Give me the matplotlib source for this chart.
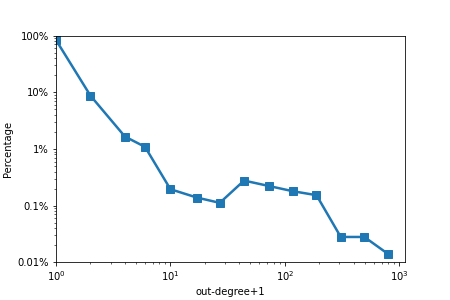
import matplotlib
matplotlib.use("Agg")
import matplotlib.pyplot as plt
from matplotlib.ticker import FuncFormatter

# out-degree+1 and percentage of nodes
degree = [1, 2, 4, 6, 10, 17, 27, 44, 72, 117, 189, 308, 495, 803]
percent = [84, 8.75, 1.66, 1.09, 0.195, 0.139, 0.112, 0.277, 0.223, 0.18, 0.153, 0.028, 0.028, 0.0139]
ytick_vals = [0.01, 0.1, 1, 10, 100]
ytick_labels = ["0.01%", "0.1%", "1%", "10%", "100%"]

fig = plt.figure(figsize=(450 / 72, 300 / 72), dpi=72)
ax = fig.add_axes([0.1244, 0.1257, 0.7756, 0.7553])

ax.plot(degree, percent, marker="s", markersize=7.5, linewidth=2.5, color="tab:blue")
ax.set_xscale("log")
ax.set_yscale("log")
ax.set_xlim(left=1)
ax.set_ylim(0.01, 100)
ax.set_yticks(ytick_vals)
ax.yaxis.set_major_formatter(FuncFormatter(lambda v, p: ytick_labels[ytick_vals.index(v)] if v in ytick_vals else ""))

ax.set_xlabel("out-degree+1")
ax.set_ylabel("Percentage")

fig.savefig("out.png", dpi=72)
